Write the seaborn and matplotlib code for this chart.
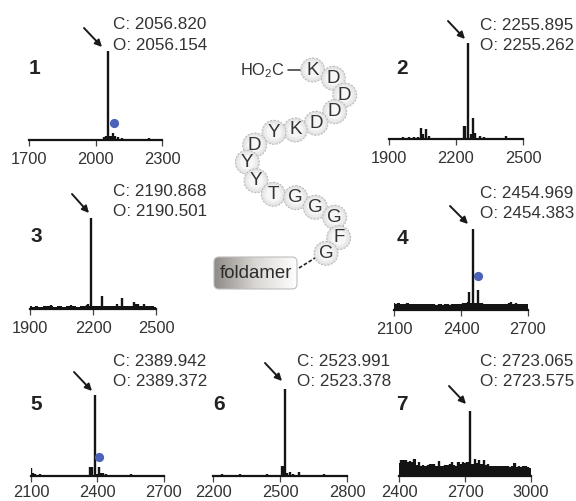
import numpy as np
import pandas as pd
import matplotlib
matplotlib.use("Agg")
import matplotlib.pyplot as plt
from matplotlib.colors import LinearSegmentedColormap
from matplotlib.patches import Circle, FancyBboxPatch
import seaborn as sns

sns.set_theme(style="white")
plt.rcParams["font.family"] = ["Liberation Sans", "DejaVu Sans"]
plt.rcParams["mathtext.fontset"] = "custom"
plt.rcParams["mathtext.rm"] = "Liberation Sans"
plt.rcParams["mathtext.default"] = "regular"

W, H = 576, 501
TEXT = "#333333"
INK = "#141414"
BLUE = "#4a62b8"

# spectra: m/z and relative intensity
mz_1 = [1700, 1730, 1780, 1830, 1880, 1930, 1980, 2020, 2040, 2048, 2056, 2065, 2072, 2079, 2088, 2100, 2120, 2160, 2200, 2240, 2280]
int_1 = [1, 1, 1, 1, 1, 1, 1, 1.5, 3, 4, 100, 4, 4, 8, 4, 3, 2, 1, 1, 2, 1]

mz_2 = [1900, 1940, 1963, 1990, 2012, 2030, 2045, 2052, 2065, 2081, 2095, 2130, 2170, 2210, 2235, 2240, 2255, 2268, 2277, 2287, 2308, 2325, 2360, 2400, 2425, 2460, 2490]
int_2 = [1, 1, 2.5, 2.5, 2.5, 2, 11.5, 5, 10, 3, 1.5, 1, 1, 1, 14, 14, 100, 5, 22, 6, 3.5, 2, 1, 1, 3, 1, 1]

mz_3 = [1900, 1915, 1930, 1950, 1970, 1985, 2000, 2020, 2040, 2060, 2080, 2095, 2110, 2130, 2150, 2170, 2178, 2190, 2200, 2220, 2245, 2260, 2280, 2300, 2315, 2325, 2340, 2360, 2380, 2396, 2405, 2415, 2425, 2442, 2460, 2480, 2498]
int_3 = [3, 2.5, 3, 2.5, 3, 3, 4, 2.5, 3, 2.5, 3, 4, 3, 2.5, 3, 4, 6, 100, 3, 3, 14, 3, 3, 3.5, 6, 3.5, 12, 3, 3.5, 8, 6, 5, 3.5, 5, 3, 3, 2.5]

mz_4 = [2100, 2110, 2120, 2130, 2140, 2150, 2160, 2170, 2180, 2190, 2200, 2210, 2220, 2230, 2240, 2250, 2260, 2270, 2280, 2290, 2300, 2310, 2320, 2330, 2340, 2350, 2360, 2370, 2380, 2390, 2400, 2410, 2420, 2430, 2437, 2445, 2454, 2465, 2475, 2485, 2495, 2505, 2515, 2525, 2535, 2545, 2555, 2565, 2575, 2585, 2595, 2605, 2615, 2625, 2635, 2645, 2655, 2665, 2675, 2685, 2695]
int_4 = [9, 8, 9, 8, 8, 7.5, 9, 8, 7.5, 8, 7, 8, 7.5, 7, 8, 7, 7.5, 8, 7, 6.5, 7.5, 7, 6.5, 7, 7.5, 6.5, 7, 8, 7, 8, 8, 9, 9, 10, 22, 9, 100, 9, 25, 9, 9, 8, 7.5, 8, 7, 7.5, 8, 7, 8, 7.5, 7, 8, 8.5, 10, 8, 9, 7.5, 7, 8, 7.5, 7]

mz_5 = [2100, 2110, 2120, 2140, 2170, 2210, 2260, 2310, 2350, 2368, 2376, 2389, 2398, 2407, 2416, 2425, 2440, 2470, 2510, 2553, 2600, 2650, 2695]
int_5 = [10, 4, 3, 2, 1, 1, 1, 1, 1.5, 11.5, 11, 100, 3, 11.5, 4, 4, 2, 1, 1, 2, 1, 1, 1]

mz_6 = [2200, 2240, 2280, 2320, 2360, 2400, 2440, 2480, 2507, 2513, 2523, 2532, 2545, 2560, 2585, 2620, 2660, 2695, 2740, 2790]
int_6 = [1.5, 2, 1.5, 2, 1.5, 1.5, 2, 1.5, 11, 11, 100, 3, 5, 2.5, 4.5, 1.5, 1.5, 2.5, 1.5, 1.5]

mz_7 = [2400, 2410, 2420, 2430, 2440, 2450, 2460, 2470, 2480, 2490, 2500, 2510, 2520, 2530, 2540, 2550, 2560, 2570, 2580, 2590, 2600, 2610, 2620, 2630, 2640, 2650, 2660, 2670, 2680, 2690, 2700, 2710, 2723, 2735, 2745, 2755, 2765, 2775, 2785, 2795, 2805, 2815, 2825, 2835, 2845, 2855, 2865, 2875, 2885, 2895, 2905, 2915, 2925, 2935, 2945, 2955, 2965, 2975, 2985, 2995]
int_7 = [20, 24, 25, 24, 22, 23, 21, 26, 17, 21, 16, 17, 16, 17, 18, 18, 19, 16, 23, 16, 15, 17, 17, 18, 21, 17, 16, 21, 18, 22, 20, 22, 100, 18, 26, 20, 25, 19, 24, 17, 19, 15, 16, 16, 15, 15, 15, 16, 15, 16, 14, 16, 20, 14, 15, 14, 16, 15, 14, 13]

ticks = [[1700, 2000, 2300], [1900, 2200, 2500], [1900, 2200, 2500], [2100, 2400, 2700],
         [2100, 2400, 2700], [2200, 2500, 2800], [2400, 2700, 3000]]
spectra = [(mz_1, int_1), (mz_2, int_2), (mz_3, int_3), (mz_4, int_4), (mz_5, int_5), (mz_6, int_6), (mz_7, int_7)]

calc = ["2056.820", "2255.895", "2190.868", "2454.969", "2389.942", "2523.991", "2723.065"]
obs = ["2056.154", "2255.262", "2190.501", "2454.383", "2389.372", "2523.378", "2723.575"]

# panel index -> marked peak (m/z, intensity)
dots = {0: (2082, 19.4), 3: (2475, 41.6), 4: (2408, 23.5)}

residues = ["K", "D", "D", "D", "D", "K", "Y", "D", "Y", "Y", "T", "G", "G", "G", "F", "G"]

# noisy panels get a solid band under this intensity
band_cap = {2: 3, 3: 9, 6: 30}

# layout, all in pixels of the 576x501 picture
# left, right, baseline, peak top
axes_px = [(29, 162, 140, 51), (389, 523, 139, 43), (30, 156, 309, 218), (394, 528, 310, 229),
           (31, 164, 476, 395), (213, 347, 476, 389), (399, 531, 476, 411)]
label_px = [(113, 24, 45), (480, 25, 45), (113, 192, 212), (480, 193, 213),
            (113, 361, 381), (297, 361, 381), (480, 361, 381)]
number_px = [(35, 68), (402, 68), (36, 237), (402, 238), (36, 404), (219, 404), (402, 404)]
arrow_px = [(84, 28, 102, 47), (448, 21, 465, 39), (72, 194, 89, 213), (450, 206, 468, 224),
            (74, 372, 92, 391), (265, 363, 282, 381), (449, 386, 466, 404)]
bead_x = [312.7, 333.3, 344.7, 334.7, 316, 295.3, 274, 254.7, 247.3, 256, 273.3, 295.7, 315.3, 334.7, 338.7, 326]
bead_y = [70, 78.3, 95, 111.7, 123.3, 130, 132.3, 145, 162.3, 180.7, 194.3, 197.7, 207.3, 217.3, 237.7, 253.3]

fig = plt.figure(figsize=(W / 100, H / 100), dpi=100, facecolor="white")

for i, (mz, inten) in enumerate(spectra):
    left, right, base, top = axes_px[i]
    ax = fig.add_axes([left / W, 1 - base / H, (right - left) / W, (base - top) / H])
    ax.patch.set_alpha(0)

    # two rows per peak so every unit is drawn as one stick from the baseline
    df = pd.DataFrame({"mz": np.repeat(mz, 2), "intensity": np.column_stack([np.zeros(len(inten)), inten]).ravel()})
    sns.lineplot(data=df, x="mz", y="intensity", units="mz", estimator=None, color=INK,
                 linewidth=1.7, solid_capstyle="butt", legend=False, ax=ax)
    if i in band_cap:
        ax.fill_between(mz, 0, np.minimum(inten, band_cap[i]), step="mid", color=INK, lw=0)
    if i in dots:
        sns.scatterplot(x=[dots[i][0]], y=[dots[i][1]], color=BLUE, s=44, linewidth=0, zorder=5, ax=ax)

    ax.set_xlim(ticks[i][0], ticks[i][-1])
    ax.set_ylim(0, 100)
    ax.set_xticks(ticks[i])
    ax.set_yticks([])
    ax.set_xlabel("")
    ax.set_ylabel("")
    # bottom row sits right on the picture edge
    ax.tick_params(axis="x", bottom=True, length=4, width=0.9, color="#444444", pad=2.5 if base > 400 else 4.5,
                   labelsize=11.8, labelcolor=TEXT)
    sns.despine(ax=ax, left=True)
    ax.spines["bottom"].set_color(INK)
    ax.spines["bottom"].set_linewidth(1.6)

# overlay for text, arrows and the peptide drawing
ov = fig.add_axes([0, 0, 1, 1], zorder=10)
ov.patch.set_alpha(0)

for i in range(7):
    x, y1, y2 = label_px[i]
    ov.text(x, y1, "C: " + calc[i], fontsize=12.3, color=TEXT, va="center", ha="left")
    ov.text(x, y2, "O: " + obs[i], fontsize=12.3, color=TEXT, va="center", ha="left")
    nx, ny = number_px[i]
    ov.text(nx, ny, str(i + 1), fontsize=15, fontweight="bold", color="#222222", va="center", ha="center")
    x0, y0, x1, y1 = arrow_px[i]
    ov.annotate("", xy=(x1, y1), xytext=(x0, y0),
                arrowprops=dict(arrowstyle="-|>", color="#1a1a1a", lw=1.4, mutation_scale=10,
                                shrinkA=0, shrinkB=0))

# peptide beads
for name, bx, by in zip(residues, bead_x, bead_y):
    ov.add_patch(Circle((bx, by), 12, fc="#e2e2e2", ec="#b5b5b5", lw=0.7, ls=(0, (2, 1.5))))
    ov.add_patch(Circle((bx, by), 10, fc="#ececec", ec="none"))
    ov.add_patch(Circle((bx, by), 7.5, fc="#f6f6f6", ec="none"))
    ov.text(bx, by, name, fontsize=13.5, color="#333333", ha="center", va="center")

ov.text(240, 71, "HO$_2$C", fontsize=11.8, color=TEXT, ha="left", va="center")
ov.plot([288, 300], [70, 70], color="#333333", lw=1.1)

# foldamer box with a left to right grey fade
box = FancyBboxPatch((214, 257), 83, 32, boxstyle="round,pad=0,rounding_size=5",
                     fc="none", ec="#bdbdbd", lw=0.8, zorder=3)
ov.add_patch(box)
fade = ov.imshow(np.linspace(0, 1, 128).reshape(1, -1), extent=(214, 297, 289, 257), aspect="auto",
                 cmap=LinearSegmentedColormap.from_list("fade", ["#8f8a86", "#d9d6d3", "#ffffff"]),
                 zorder=2)
fade.set_clip_path(box)
ov.text(255.5, 274, "foldamer", fontsize=13.4, color="#2b2b2b", ha="center", va="center", zorder=4)
ov.plot([299, 315], [268, 258], color="#222222", lw=1.2, ls=(0, (2.2, 1.2)))

ov.set_xlim(0, W)
ov.set_ylim(H, 0)
ov.axis("off")

fig.savefig("out.png", dpi=100)
